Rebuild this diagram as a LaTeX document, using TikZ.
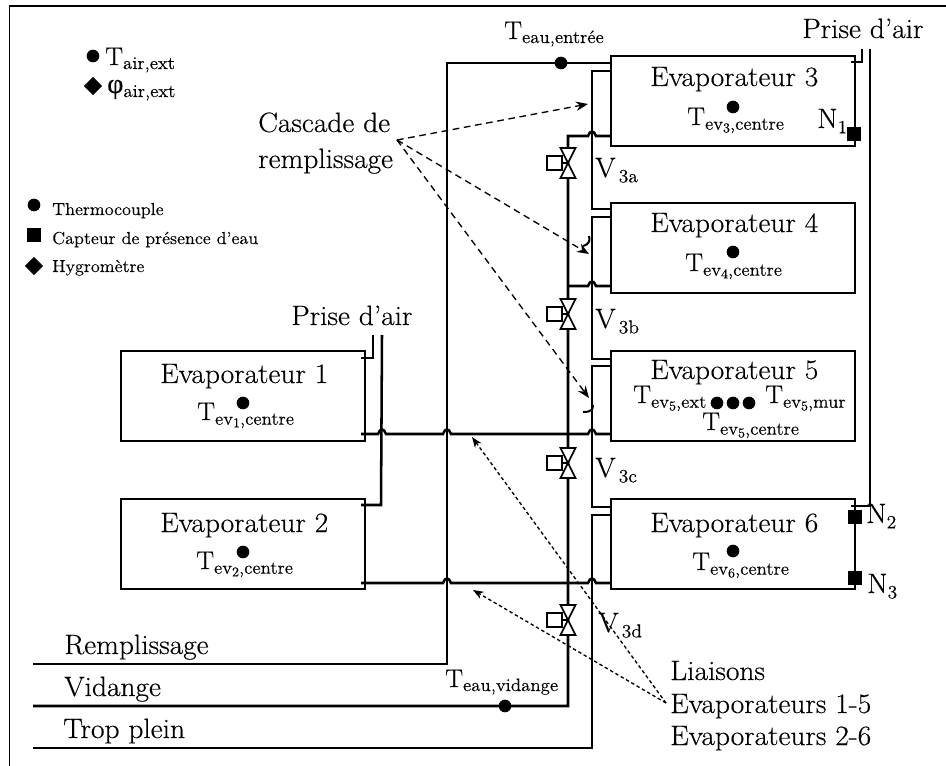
\documentclass[tikz,border=0pt]{standalone}
\usepackage{fontspec}
\setmainfont{Latin Modern Roman}[FakeBold=0.35,FakeStretch=1.05]
\usetikzlibrary{arrows.meta,shapes.geometric}
\newfontfamily\grk{Liberation Serif}[FakeBold=0.35]
\newcommand\fs[1]{\fontsize{#1}{#1}\selectfont}
\newcommand\TS[1]{{\fs{19}T}\raisebox{-3pt}{\fs{13.5}#1}}
\newcommand\EV[2]{{\fs{19}T}\raisebox{-3.5pt}{\fs{13.5}ev\raisebox{-2pt}{\fs{10}#1},#2}}
\newcommand\VS[1]{V\raisebox{-4pt}{\fs{14}\,#1}}
\newcommand\NS[1]{N\raisebox{-4pt}{\fs{14}#1}}
\tikzset{
  x=0.75pt,y=-0.75pt,
  pipe/.style={line width=1.9pt,line join=miter},
  evap/.style={draw,line width=1.9pt,minimum width=183pt,minimum height=67.5pt,inner sep=0pt},
  lab/.style={anchor=base west,inner sep=0pt,font=\fs{21}},
  smalllab/.style={lab,font=\fs{13}},
  sensor/.style={circle,fill=black,minimum size=9.5pt,inner sep=0pt},
  level/.style={rectangle,fill=black,minimum size=10.5pt,inner sep=0pt},
  hygro/.style={diamond,fill=black,minimum size=14pt,inner sep=0pt},
  vbox/.style={draw,fill=white,line width=1.3pt,rectangle,minimum size=11pt,inner sep=0pt},
  tri/.style={draw,fill=white,line width=1.3pt,line join=miter},
  casc/.style={line width=1pt,dash pattern=on 5pt off 3.5pt,-{Stealth[length=9pt,width=7pt]}},
  liais/.style={line width=1pt,dash pattern=on 2.6pt off 2pt,-{Stealth[length=8pt,width=6pt]}}
}
\newcommand\vlv[2]{%
  \coordinate (#1) at (568,#2);
  \node[vbox] (#1b) at (554.5,#2) {};
  \draw[line width=1.3pt] (#1b) -- (#1);
  \draw[tri] (#1) -- ++(-7.5,-15) -- ++(15,0) -- cycle;
  \draw[tri] (#1) -- ++(-7.5,15) -- ++(15,0) -- cycle;
}
\begin{document}
\begin{tikzpicture}
\useasboundingbox (0,0) rectangle (946,766);
% frame
\coordinate (fa) at (9.5,766);
\coordinate (fb) at (9.5,6);
\coordinate (fc) at (946,6);
\draw[line width=1.3pt] (fa) -- (fb) -- (fc);
% evaporators
\node[evap] (ev3) at (733,101) {};
\node[evap] (ev4) at (733,248) {};
\node[evap] (ev5) at (733,396) {};
\node[evap] (ev6) at (733,544) {};
\node[evap] (ev1) at (243,396) {};
\node[evap] (ev2) at (243,544) {};
% water pipes
\coordinate (rs) at (33,664);
\coordinate (vs) at (33,706);
\coordinate (ts) at (33,748);
\draw[pipe] (rs) -- (447,664) -- (447,63) -- (611,63);
\draw[pipe] (611,71) -- (592,71) -- (592,209) -- (611,209);
\draw[pipe] (611,217) -- (592,217) -- (592,359) -- (611,359);
\draw[pipe] (611,366) -- (592,366) -- (592,507) -- (611,507);
\draw[pipe] (611,515) -- (592,515) -- (592,748) -- (ts);
\draw[pipe] (611,136) -- (596,136) .. controls (594,130) and (590,130) .. (588,136) -- (568,136) -- (568,706) -- (vs);
\draw[pipe] (611,286) -- (596,286) .. controls (594,280) and (590,280) .. (588,286) -- (568,286);
% links
\draw[pipe] (611,434) -- (596,434) .. controls (594,428) and (590,428) .. (588,434)
  -- (451,434) .. controls (449,428) and (445,428) .. (443,434)
  -- (386,434) .. controls (384,428) and (380,428) .. (378,434) -- (361,434);
\draw[pipe] (611,583) -- (596,583) .. controls (594,577) and (590,577) .. (588,583)
  -- (451,583) .. controls (449,577) and (445,577) .. (443,583) -- (361,583);
% small ticks
\draw[line width=1.5pt] (589,236) .. controls (590,240) and (590,244) .. (583,246);
\draw[line width=1.5pt] (593,405) .. controls (593,409) and (592,412) .. (583,412);
% air pipes
\draw[pipe] (361,358) -- (373,358) -- (373,335);
\draw[pipe] (361,505) -- (381,505) -- (382,335);
\draw[pipe] (851,62) -- (862,62) -- (862,49);
\draw[pipe] (870,49) -- (870,506) -- (851,506);
% valves
\vlv{va}{163}
\vlv{vb}{314}
\vlv{vc}{463}
\vlv{vd}{620}
% sensors
\node[sensor] (s0) at (561,63) {};
\node[sensor] (s1) at (505,706) {};
\node[sensor] (s3) at (733,107) {};
\node[sensor] (s4) at (733,252) {};
\node[sensor] (s6) at (733,551) {};
\node[sensor] (sa) at (243,403) {};
\node[sensor] (sb) at (243,552) {};
\node[sensor] (s5a) at (717,403) {};
\node[sensor] (s5b) at (733,403) {};
\node[sensor] (s5c) at (749,403) {};
\node[level] (n1) at (854,134) {};
\node[level] (n2) at (855,517) {};
\node[level] (n3) at (855,578) {};
\node[sensor] (lt) at (93,56) {};
\node[hygro] (lp) at (93,86) {};
\node[sensor] (ls) at (34,205) {};
\node[level] (lq) at (34,235.5) {};
\node[hygro] (ld) at (34,266) {};
% evaporator titles
\node[lab] (t3) at (650,86) {Evaporateur 3};
\node[lab] (t4) at (650,232) {Evaporateur 4};
\node[lab] (t5) at (650,379) {Evaporateur 5};
\node[lab] (t6) at (650,532) {Evaporateur 6};
\node[lab] (t1) at (160,383) {Evaporateur 1};
\node[lab] (t2) at (160,532) {Evaporateur 2};
% temperatures
\node[lab] (e3) at (687,125) {\EV{3}{centre}};
\node[lab] (e4) at (685,271) {\EV{4}{centre}};
\node[lab] (e6) at (692,570) {\EV{6}{centre}};
\node[lab] (e1) at (197,420) {\EV{1}{centre}};
\node[lab] (e2) at (196,569) {\EV{2}{centre}};
\node[lab] (e5a) at (633,403) {\EV{5}{ext}};
\node[lab] (e5b) at (765,403) {\EV{5}{mur}};
\node[lab] (e5c) at (702,430) {\EV{5}{centre}};
\node[lab] (te) at (504,39) {\TS{eau,entrée}};
\node[lab] (tv) at (445,687) {\TS{eau,vidange}};
\node[lab] (ta) at (105,65) {\TS{air,ext}};
\node[lab] (pa) at (107,93) {{\grk φ}\raisebox{-3pt}{\fs{13.5}air,ext}};
% other labels
\node[lab] (pr1) at (802,38) {Prise d'air};
\node[lab] (pr2) at (291,325) {Prise d'air};
\node[lab] (ca) at (258,132) {Cascade de};
\node[lab] (cb) at (258,168) {remplissage};
\node[lab] (rem) at (64,654) {Remplissage};
\node[lab] (vid) at (64,696) {Vidange};
\node[lab] (tro) at (63,738) {Trop plein};
\node[lab] (li) at (670,680) {Liaisons};
\node[lab] (lb) at (670,713) {Evaporateurs 1-5};
\node[lab] (lc) at (670,745) {Evaporateurs 2-6};
\node[lab] (v3a) at (595,177) {\VS{3a}};
\node[lab] (v3b) at (595,328) {\VS{3b}};
\node[lab] (v3c) at (595,477) {\VS{3c}};
\node[lab] (v3d) at (598,632) {\VS{3d}};
\node[lab] (N1) at (817,128) {\NS{1}};
\node[lab] (N2) at (866,523) {\NS{2}};
\node[lab] (N3) at (867,593) {\NS{3}};
\node[smalllab] (l1) at (52,215) {Thermocouple};
\node[smalllab] (l2) at (52,244) {Capteur de présence d'eau};
\node[smalllab] (l3) at (52,272) {Hygromètre};
% dashed arrows
\coordinate (co) at (397,140);
\coordinate (c3) at (588,104);
\coordinate (c4) at (589,254);
\coordinate (c5) at (589,398);
\draw[casc] (co) -- (c3);
\draw[casc] (co) -- (c4);
\draw[casc] (co) -- (c5);
\coordinate (lo) at (666,703);
\coordinate (l5) at (472,437);
\coordinate (l6) at (473,590);
\draw[liais] (lo) -- (l5);
\draw[liais] (lo) -- (l6);
\end{tikzpicture}
\end{document}
